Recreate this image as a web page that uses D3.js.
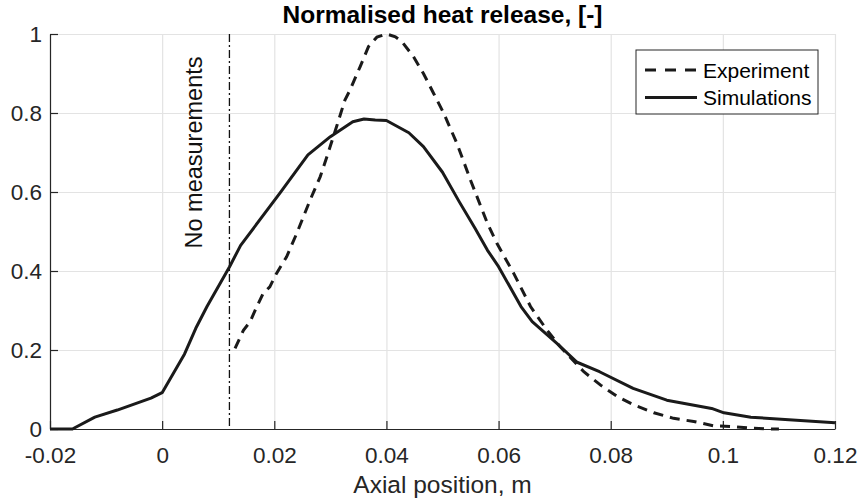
<!DOCTYPE html>
<html>
<head>
<meta charset="utf-8">
<script src="https://cdn.jsdelivr.net/npm/d3@7"></script>
<style>
  body { margin: 0; background: #fff; }
  svg { font-family: "Liberation Sans", Arial, Helvetica, sans-serif; }
</style>
</head>
<body>
<div id="the_chart"></div>
<script>
// simulation curve
var simX = [-0.02, -0.016, -0.012, -0.008, -0.002, 0, 0.004, 0.006, 0.008, 0.012, 0.014,
  0.021, 0.026, 0.030, 0.034, 0.036, 0.038, 0.040, 0.044, 0.0466, 0.050, 0.053, 0.0558,
  0.058, 0.060, 0.064, 0.066, 0.0704, 0.074, 0.078, 0.084, 0.090, 0.098, 0.1002,
  0.105, 0.120];
var simY = [0, 0, 0.03, 0.048, 0.078, 0.092, 0.19, 0.255, 0.31, 0.41, 0.465,
  0.597, 0.694, 0.740, 0.778, 0.785, 0.782, 0.781, 0.75, 0.715, 0.65, 0.575, 0.508,
  0.453, 0.411, 0.31, 0.272, 0.217, 0.169, 0.145, 0.103, 0.073, 0.052, 0.041,
  0.03, 0.016];

// experiment curve
var expX = [0.013, 0.0145, 0.0157, 0.0166, 0.018, 0.0192, 0.0204, 0.0222, 0.024, 0.0264,
  0.0282, 0.0294, 0.0311, 0.0326, 0.0335, 0.0353, 0.0368, 0.0383, 0.040, 0.0416, 0.0428,
  0.0448, 0.0466, 0.0484, 0.0502, 0.0526, 0.055, 0.058, 0.0597, 0.0627, 0.0657, 0.0686,
  0.071, 0.0752, 0.0782, 0.0812, 0.0841, 0.0877, 0.0912, 0.0948, 0.0984, 0.102, 0.105,
  0.109, 0.110];
var expY = [0.204, 0.25, 0.272, 0.301, 0.343, 0.36, 0.394, 0.436, 0.495, 0.58,
  0.639, 0.69, 0.765, 0.833, 0.858, 0.917, 0.968, 0.992, 1.0, 0.993, 0.98,
  0.943, 0.9, 0.85, 0.8, 0.722, 0.63, 0.521, 0.47, 0.394, 0.31, 0.251,
  0.208, 0.145, 0.111, 0.082, 0.061, 0.041, 0.027, 0.019, 0.008, 0.006, 0.002,
  0.0, 0.0];

var xTicks = [-0.02, 0, 0.02, 0.04, 0.06, 0.08, 0.1, 0.12];
var yTicks = [0, 0.2, 0.4, 0.6, 0.8, 1];
var noMeasX = 0.012;
var seriesNames = ["Experiment", "Simulations"];

var w = 861, h = 504;
var margin = { left: 50, right: 26, top: 34, bottom: 75 };
var axisColor = "#262626";

var svg = d3.select("#the_chart").append("svg")
  .attr("width", w)
  .attr("height", h);

var xscale = d3.scaleLinear().domain([-0.02, 0.12]).range([margin.left, w - margin.right]);
var yscale = d3.scaleLinear().domain([0, 1]).range([h - margin.bottom, margin.top]);

var fmt = function (d) { return String(+d.toFixed(2)); };

// grid
svg.append("g")
  .attr("transform", "translate(0," + (h - margin.bottom) + ")")
  .call(d3.axisBottom(xscale).tickValues(xTicks).tickSize(-(h - margin.top - margin.bottom)).tickFormat(""))
  .call(g => g.select(".domain").remove())
  .call(g => g.selectAll("line").attr("stroke", "#e3e3e3").attr("stroke-width", 1.2));

svg.append("g")
  .attr("transform", "translate(" + margin.left + ",0)")
  .call(d3.axisLeft(yscale).tickValues(yTicks).tickSize(-(w - margin.left - margin.right)).tickFormat(""))
  .call(g => g.select(".domain").remove())
  .call(g => g.selectAll("line").attr("stroke", "#e3e3e3").attr("stroke-width", 1.2));

// axes
var xaxis = svg.append("g")
  .attr("transform", "translate(0," + (h - margin.bottom) + ")")
  .call(d3.axisBottom(xscale).tickValues(xTicks).tickSize(-8).tickSizeOuter(0).tickPadding(18).tickFormat(fmt));

var yaxis = svg.append("g")
  .attr("transform", "translate(" + margin.left + ",0)")
  .call(d3.axisLeft(yscale).tickValues(yTicks).tickSize(-8).tickSizeOuter(0).tickPadding(8).tickFormat(fmt));

[xaxis, yaxis].forEach(function (g) {
  g.select(".domain").attr("stroke", axisColor).attr("stroke-width", 1.2);
  g.selectAll(".tick line").attr("stroke", axisColor).attr("stroke-width", 1.2);
  g.selectAll(".tick text").attr("fill", axisColor).style("font-size", "22.5px");
});

// vertical line "No measurements"
svg.append("line")
  .attr("x1", xscale(noMeasX)).attr("x2", xscale(noMeasX))
  .attr("y1", yscale(1)).attr("y2", yscale(0))
  .attr("stroke", "#111")
  .attr("stroke-width", 1.3)
  .attr("stroke-dasharray", "8,3,2,3");

svg.append("text")
  .attr("transform", "translate(" + (xscale(noMeasX) - 27) + "," + yscale(0.7) + ") rotate(-90)")
  .attr("text-anchor", "middle")
  .attr("fill", "#111")
  .style("font-size", "23.5px")
  .text("No measurements");

var line = d3.line()
  .x(function (d) { return xscale(d[0]); })
  .y(function (d) { return yscale(d[1]); });

var simData = simX.map(function (x, i) { return [x, simY[i]]; });
var expData = expX.map(function (x, i) { return [x, expY[i]]; });

svg.append("path")
  .datum(simData)
  .attr("d", line)
  .attr("fill", "none")
  .attr("stroke", "#1a1a1a")
  .attr("stroke-width", 3)
  .attr("stroke-linejoin", "round");

svg.append("path")
  .datum(expData)
  .attr("d", line)
  .attr("fill", "none")
  .attr("stroke", "#1a1a1a")
  .attr("stroke-width", 3)
  .attr("stroke-dasharray", "10,7");

// title
svg.append("text")
  .attr("x", (margin.left + w - margin.right) / 2)
  .attr("y", 23)
  .attr("text-anchor", "middle")
  .attr("fill", "#000")
  .style("font-size", "24.5px")
  .style("font-weight", "bold")
  .text("Normalised heat release, [-]");

// x label
svg.append("text")
  .attr("x", (margin.left + w - margin.right) / 2)
  .attr("y", 493)
  .attr("text-anchor", "middle")
  .attr("fill", axisColor)
  .style("font-size", "24.5px")
  .text("Axial position, m");

// legend
var legend = svg.append("g").attr("transform", "translate(636,50)");
legend.append("rect")
  .attr("width", 182).attr("height", 64)
  .attr("fill", "#fff")
  .attr("stroke", axisColor)
  .attr("stroke-width", 1);

seriesNames.forEach(function (name, i) {
  var yy = 20 + i * 27.5;
  legend.append("line")
    .attr("x1", 9).attr("x2", 61)
    .attr("y1", yy).attr("y2", yy)
    .attr("stroke", "#1a1a1a")
    .attr("stroke-width", 3)
    .attr("stroke-dasharray", i === 0 ? "11,9" : null);
  legend.append("text")
    .attr("x", 67).attr("y", yy + 7.5)
    .attr("fill", "#000")
    .style("font-size", "21px")
    .text(name);
});
</script>
</body>
</html>
